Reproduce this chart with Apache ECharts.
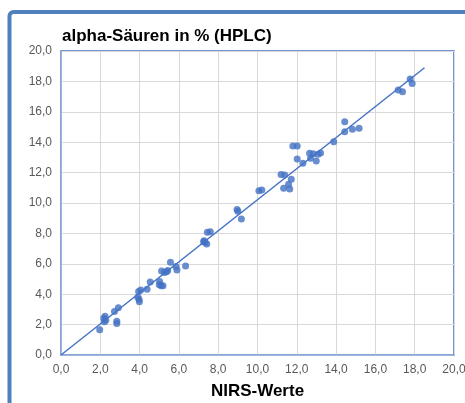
<!DOCTYPE html>
<html><head><meta charset="utf-8">
<script src="https://cdn.jsdelivr.net/npm/echarts@6/dist/echarts.min.js"></script>
<style>html,body{margin:0;padding:0;background:#fff}#c{width:465px;height:403px}</style>
</head><body><div id="c"></div>
<script>
const titleText = "alpha-Säuren in % (HPLC)";
const xAxisName = "NIRS-Werte";
const nirs = [1.97,2.18,2.24,2.21,2.28,2.72,2.92,2.84,2.84,3.95,4.06,3.91,3.97,3.99,4.38,4.54,5.02,5.00,5.10,5.19,5.12,5.27,5.37,5.43,5.57,5.85,5.90,6.34,7.45,7.60,7.28,7.34,7.42,7.26,8.96,9.00,9.18,10.07,10.22,11.20,11.38,11.33,11.58,11.64,11.72,11.80,12.02,12.02,12.31,12.65,12.70,12.83,12.99,13.08,13.21,13.88,14.44,14.44,14.83,15.17,17.16,17.38,17.77,17.87];
const hplc = [1.66,2.41,2.55,2.19,2.28,2.87,3.11,2.22,2.08,4.17,4.28,3.80,3.66,3.50,4.33,4.80,4.84,4.62,4.56,4.56,5.52,5.42,5.48,5.56,6.10,5.82,5.60,5.86,8.07,8.11,7.52,7.40,7.30,7.45,9.58,9.45,8.95,10.80,10.85,11.88,11.84,10.97,11.23,10.92,11.56,13.75,13.75,12.89,12.61,13.27,12.94,13.24,12.76,13.20,13.29,14.03,15.35,14.69,14.85,14.91,17.43,17.32,18.16,17.87];
const trendX = [0, 18.5];
const trendY = [0, 18.9];
const ticks = [0,2,4,6,8,10,12,14,16,18,20];

const points = nirs.map((x,i)=>[x,hplc[i]]);
const trend = trendX.map((x,i)=>[x,trendY[i]]);
const fmt = v => v.toFixed(1).replace('.', ',');
const FONT = 'Liberation Sans, Arial, sans-serif';
const axisCommon = {
  type:'value', min:ticks[0], max:ticks[ticks.length-1], interval:ticks[1]-ticks[0],
  axisLine:{show:true,lineStyle:{color:'#8eaadb',width:1.5}},
  axisTick:{show:false},
  splitLine:{show:true,lineStyle:{color:'#d9d9d9',width:1}},
  axisLabel:{formatter:fmt,color:'#595959',fontSize:12,fontFamily:FONT,margin:9}
};
const chart = echarts.init(document.getElementById('c'),null,{renderer:'canvas'});
chart.setOption({
  animation:false,
  backgroundColor:'#fff',
  title:{text:titleText,left:57,top:23,textStyle:{fontSize:17,fontWeight:'bold',color:'#000',fontFamily:FONT}},
  graphic:[{type:'rect',shape:{x:9.5,y:12,width:520,height:460,r:4},style:{fill:'none',stroke:'#4f81bd',lineWidth:4},z:100}],
  grid:{left:61,top:51,right:11,bottom:48,show:true,borderColor:'#4472c4',borderWidth:1.5,containLabel:false,outerBoundsMode:'none'},
  xAxis:Object.assign({},axisCommon,{
    name:xAxisName,nameLocation:'middle',nameGap:28,
    nameTextStyle:{fontSize:17,fontWeight:'bold',color:'#000',fontFamily:FONT}
  }),
  yAxis:Object.assign({},axisCommon),
  series:[
    {type:'line',data:trend,symbol:'none',lineStyle:{color:'#4472c4',width:1.5},z:2,silent:true},
    {type:'scatter',data:points,symbol:'circle',symbolSize:7,itemStyle:{color:'#4472c4'},z:3}
  ]
});
</script></body></html>
